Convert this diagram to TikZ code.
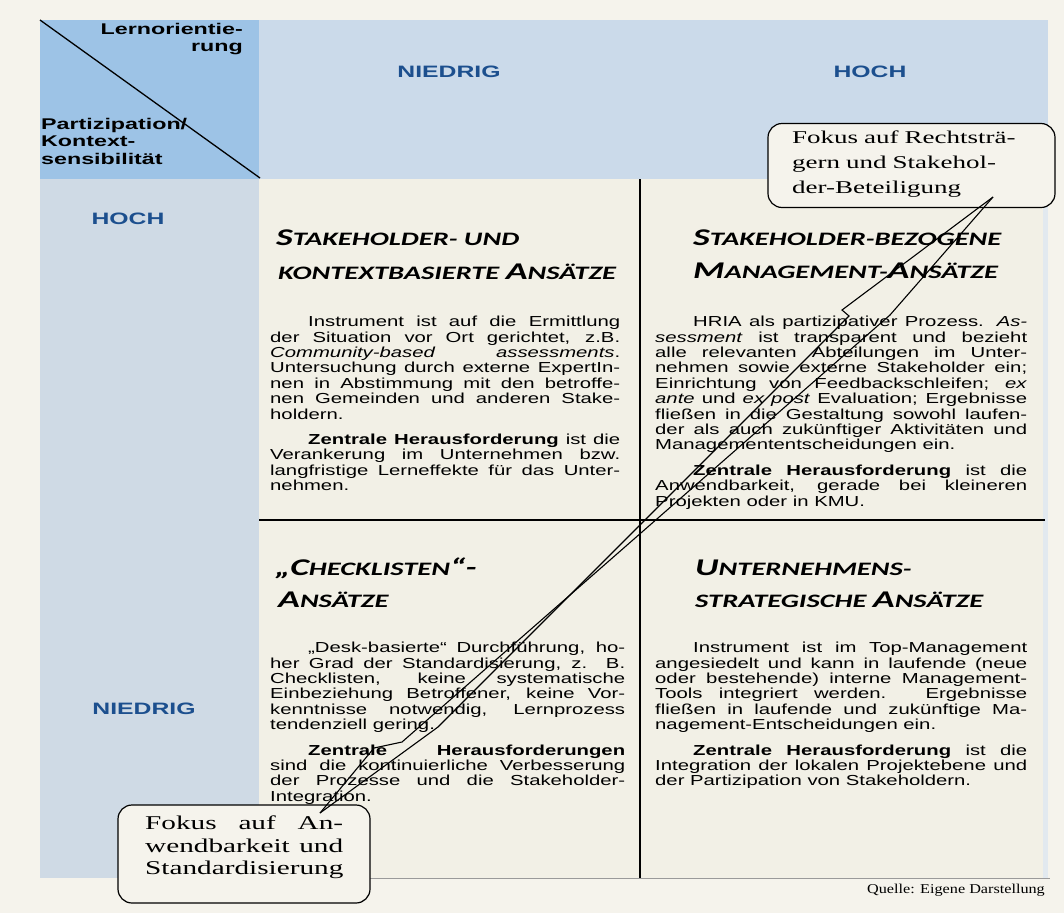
\documentclass[tikz,border=0pt]{standalone}
\usepackage{fontspec}
\newfontfamily\sansf{Liberation Sans}[FakeStretch=1.5]
\newfontfamily\bodyf{Liberation Sans}[FakeStretch=1.4]
\newfontfamily\headf{Carlito}[FakeStretch=1.5]
\newfontfamily\serff{Liberation Serif}[FakeStretch=1.5]
\newfontfamily\srcf{Liberation Serif}[FakeStretch=1.2]
\definecolor{pagebg}{HTML}{F5F3EC}
\definecolor{cream}{HTML}{F2F0E6}
\definecolor{cornerblue}{HTML}{9DC3E6}
\definecolor{headblue}{HTML}{CBDAEA}
\definecolor{colblue}{HTML}{CFDAE5}
\definecolor{labblue}{HTML}{1C4F8E}
\definecolor{edgegray}{HTML}{9A9A9A}
\newcommand\hbig[1]{{\fontsize{24}{24}\selectfont #1}}
\newcommand\hsm[1]{{\fontsize{19}{19}\selectfont #1}}
\newcommand\bodysetup{\bodyf\fontsize{14.5}{15.4}\selectfont\hyphenpenalty=10000\exhyphenpenalty=10000\tolerance=10000}
\newcommand\pind{\hspace*{38pt}}
\newcommand\pgap{\par\vspace{10pt}}
\tikzset{
  lab/.style={font=\sansf\bfseries\fontsize{16.5}{16.5}\selectfont, text=labblue, inner sep=0},
  corner/.style={font=\sansf\bfseries\fontsize{15.5}{17.5}\selectfont, inner sep=0},
  head/.style={font=\headf\bfseries\itshape, inner sep=0, anchor=base west},
  body/.style={font=\bodysetup, text width=#1, align=justify, inner sep=0, anchor=north west},
  callbox/.style={draw, line width=1.2pt, rounded corners=14pt, fill=pagebg},
  caltext/.style={font=\serff\fontsize{18}{25}\selectfont, inner sep=0, anchor=north west},
  gridline/.style={line width=1.3pt},
  bolt/.style={line width=1.1pt, line join=miter}
}
\begin{document}
\begin{tikzpicture}[x=1pt,y=-1pt]
\useasboundingbox (0,0) rectangle (1064,913);
\fill[pagebg] (0,0) rectangle (1064,913);
% panels
\fill[cornerblue] (40,20) rectangle (259,179);
\fill[headblue] (259,20) rectangle (1048,179);
\fill[colblue] (40,179) rectangle (259,878);
\fill[cream] (259,179) rectangle (1045,878);
\fill[colblue!60] (1043,179) rectangle (1048,878);
% grid lines
\draw[gridline] (40,20) -- (260,178);
\draw[gridline] (640,179) -- (640,878);
\draw[gridline] (259,520) -- (1045,520);
\draw[edgegray, line width=1pt] (363,878) -- (1050,878);
% header labels
\node[lab] (hn) at (449,72) {NIEDRIG};
\node[lab] (hh) at (870,72) {HOCH};
\node[lab] (lh) at (128,219) {HOCH};
\node[lab] (ln) at (144,709) {NIEDRIG};
\node[corner, anchor=north east, align=right] (lo) at (243,23) {Lernorientie-\\rung};
\node[corner, anchor=north west, align=left] (pk) at (41,118) {Partizipation/\\Kontext-\\sensibilit\"at};
% headings
\node[head] (h1a) at (276,245) {\hbig{S}\hsm{TAKEHOLDER- UND}};
\node[head] (h1b) at (278,279) {\hsm{KONTEXTBASIERTE }\hbig{A}\hsm{NS\"ATZE}};
\node[head] (h2a) at (693,245) {\hbig{S}\hsm{TAKEHOLDER-BEZOGENE}};
\node[head] (h2b) at (693,278) {\hbig{M}\hsm{ANAGEMENT-}\hbig{A}\hsm{NS\"ATZE}};
\node[head] (h3a) at (275,575) {\hbig{„C}\hsm{HECKLISTEN}\hbig{“-}};
\node[head] (h3b) at (278,607) {\hbig{A}\hsm{NS\"ATZE}};
\node[head] (h4a) at (695,575) {\hbig{U}\hsm{NTERNEHMENS-}};
\node[head] (h4b) at (695,607) {\hsm{STRATEGISCHE }\hbig{A}\hsm{NS\"ATZE}};
% body texts
\node[body=350pt] (t1) at (270,316) {\pind Instrument ist auf die Ermittlung\linebreak
der Situation vor Ort gerichtet, z.B.\linebreak
\textit{Community-based assessments}.\linebreak
Untersuchung durch externe ExpertIn-\linebreak
nen in Abstimmung mit den betroffe-\linebreak
nen Gemeinden und anderen Stake-\linebreak
holdern.\pgap
\pind\textbf{Zentrale Herausforderung} ist die\linebreak
Verankerung im Unternehmen bzw.\linebreak
langfristige Lerneffekte f\"ur das Unter-\linebreak
nehmen.};
\node[body=372pt] (t2) at (655,316) {\pind HRIA als partizipativer Prozess. \textit{As-}\linebreak
\textit{sessment} ist transparent und bezieht\linebreak
alle relevanten Abteilungen im Unter-\linebreak
nehmen sowie externe Stakeholder ein;\linebreak
Einrichtung von Feedbackschleifen; \textit{ex}\linebreak
\textit{ante} und \textit{ex post} Evaluation; Ergebnisse\linebreak
flie\ss en in die Gestaltung sowohl laufen-\linebreak
der als auch zuk\"unftiger Aktivit\"aten und\linebreak
Managemententscheidungen ein.\pgap
\pind\textbf{Zentrale Herausforderung} ist die\linebreak
Anwendbarkeit, gerade bei kleineren\linebreak
Projekten oder in KMU.};
\node[body=355pt] (t3) at (270,642) {\pind „Desk-basierte“ Durchf\"uhrung, ho-\linebreak
her Grad der Standardisierung, z. B.\linebreak
Checklisten, keine systematische\linebreak
Einbeziehung Betroffener, keine Vor-\linebreak
kenntnisse notwendig, Lernprozess\linebreak
tendenziell gering.\pgap
\pind\textbf{Zentrale Herausforderungen}\linebreak
sind die kontinuierliche Verbesserung\linebreak
der Prozesse und die Stakeholder-\linebreak
Integration.};
\node[body=372pt] (t4) at (655,642) {\pind Instrument ist im Top-Management\linebreak
angesiedelt und kann in laufende (neue\linebreak
oder bestehende) interne Management-\linebreak
Tools integriert werden. Ergebnisse\linebreak
flie\ss en in laufende und zuk\"unftige Ma-\linebreak
nagement-Entscheidungen ein.\pgap
\pind\textbf{Zentrale Herausforderung} ist die\linebreak
Integration der lokalen Projektebene und\linebreak
der Partizipation von Stakeholdern.};
% source
\node[font=\srcf\fontsize{13.5}{13.5}\selectfont, anchor=base east, inner sep=0] (src) at (1045,893) {Quelle: Eigene Darstellung};
% callouts
\node[callbox, minimum width=287pt, minimum height=84pt] (c1) at (911.5,165.5) {};
\node[caltext, text width=250pt, align=left] (c1t) at (792,131) {Fokus auf Rechtstr\"a-\\gern und Stakehol-\\der-Beteiligung};
\node[callbox, minimum width=252pt, minimum height=98pt] (c2) at (244,854) {};
\node[caltext, font=\serff\fontsize{19.5}{22.5}\selectfont, text width=198pt, align=justify] (c2t) at (145,816) {Fokus auf An-\linebreak wendbarkeit und\linebreak Standardisierung};
% lightning pointers
\coordinate (T) at (993,197);
\coordinate (A) at (842,310);
\coordinate (A2) at (849,316);
\coordinate (L3) at (438,727);
\coordinate (R1) at (890,315);
\coordinate (K) at (402,742);
\coordinate (K2) at (374,748);
\coordinate (B) at (320,813);
\draw[bolt] (T) -- (A) -- (A2) -- (L3) -- (B);
\draw[bolt] (T) -- (R1) -- (K) -- (K2) -- (B);
\end{tikzpicture}
\end{document}
